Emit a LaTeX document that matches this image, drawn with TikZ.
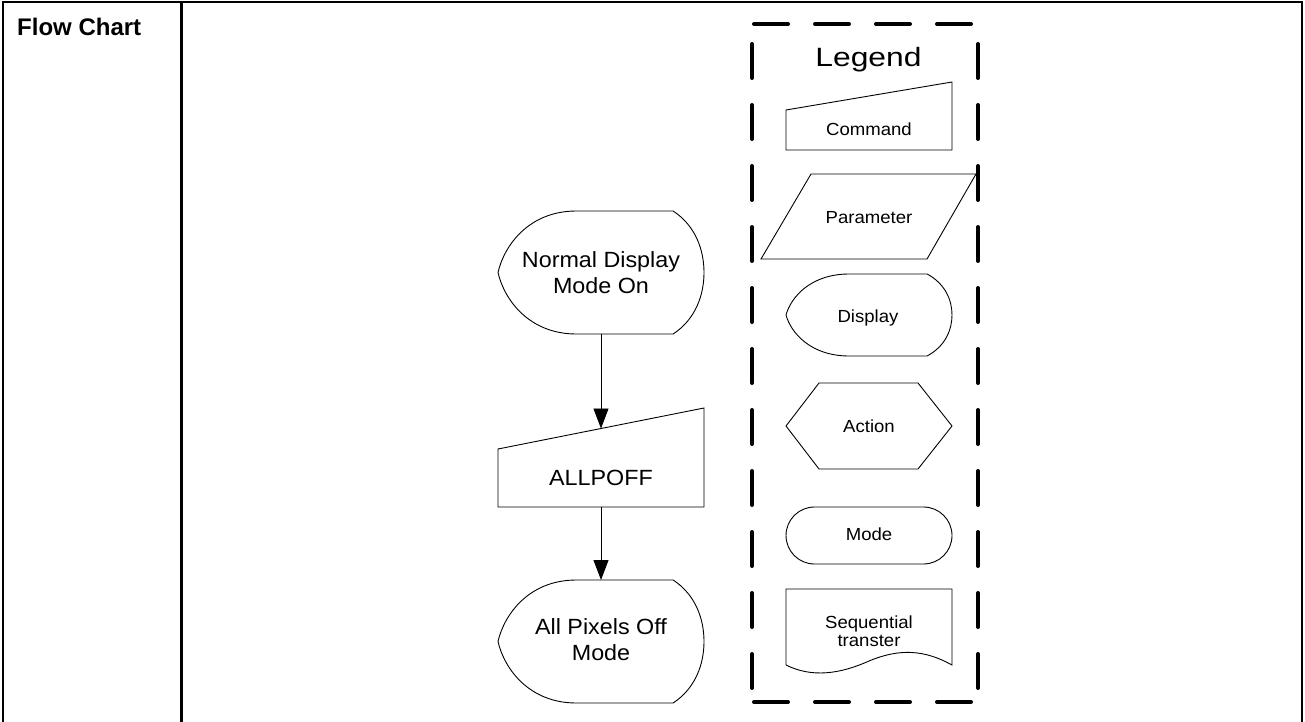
\documentclass[tikz,border=0pt]{standalone}
\usepackage{fontspec}
\usetikzlibrary{arrows.meta}
\setmainfont{Liberation Sans}
\newfontfamily\shapefont[FakeStretch=1.06]{Liberation Sans}
\newfontfamily\legendfont[FakeStretch=1.2]{Liberation Sans}
\begin{document}
\begin{tikzpicture}[x=1pt,y=-1pt,
  outline/.style={draw=black,line width=.9pt},
  flowtext/.style={font=\shapefont\fontsize{22}{26.5}\selectfont,align=center,inner sep=0pt},
  keytext/.style={font=\shapefont\fontsize{17.5}{18.4}\selectfont,align=center,inner sep=0pt},
  flowarrow/.style={draw=black,line width=.9pt,-{Triangle[length=20pt,width=15pt]}},
  keydash/.style={line width=4pt,line cap=round,dash pattern=on 34pt off 27pt}]
\useasboundingbox (0,0) rectangle (1305,722);
% table frame, open at the bottom
\draw[line width=2.5pt] (3,722) -- (3,2) -- (1302,2) -- (1302,722);
\draw[line width=2.5pt] (181.5,2) -- (181.5,722);
\node[anchor=base west,font=\bfseries\fontsize{24}{28}\selectfont,inner sep=0pt] (title) at (17,36) {Flow Chart};
% ---- legend box
\draw[keydash] (754,24) -- (978,24);
\draw[keydash] (754,702) -- (978,702);
\draw[keydash] (752,44) -- (752,700);
\draw[keydash] (978,44) -- (978,700);
\node[anchor=base,font=\legendfont\fontsize{26.5}{30}\selectfont,inner sep=0pt] (legend) at (868.5,67) {Legend};
% display shapes: pointed left, flat top and bottom, round right
\foreach \l/\t/\w/\h in {498/211/206/123,498/580/206/123,786/274/166/82}{
  \draw[outline] ({\l+.38*\w},\t) -- ({\l+.85*\w},\t)
    .. controls ({\l+.96*\w},{\t+.12*\h}) and ({\l+\w},{\t+.32*\h}) .. ({\l+\w},{\t+.5*\h})
    .. controls ({\l+\w},{\t+.68*\h}) and ({\l+.96*\w},{\t+.88*\h}) .. ({\l+.85*\w},{\t+\h})
    -- ({\l+.38*\w},{\t+\h})
    .. controls ({\l+.15*\w},{\t+\h}) and ({\l+.03*\w},{\t+.72*\h}) .. (\l,{\t+.5*\h})
    .. controls ({\l+.03*\w},{\t+.28*\h}) and ({\l+.15*\w},\t) .. cycle;
}
% command (manual input)
\draw[outline] (786,110) -- (952,82) -- (952,150) -- (786,150) -- cycle;
\node[keytext,anchor=base] (cmd) at (869,136) {Command};
% parameter
\draw[outline] (811,174) -- (976,174) -- (927,259) -- (761,259) -- cycle;
\node[keytext,anchor=base] (param) at (869,223) {Parameter};
\node[keytext,anchor=base] (disp) at (868,322) {Display};
% action
\draw[outline] (786,426) -- (819,383) -- (918,383) -- (952,426) -- (918,469) -- (819,469) -- cycle;
\node[keytext,anchor=base] (act) at (869,432) {Action};
% mode
\draw[outline,rounded corners=28.5pt] (786,507) rectangle (952,564);
\node[keytext,anchor=base] (mode) at (869,540) {Mode};
% sequential transfer (document)
\draw[outline] (786,665) -- (786,589) -- (952,589) -- (952,665)
  .. controls (925,650) and (900,648) .. (869,661)
  .. controls (840,674) and (812,678) .. (786,665);
\node[keytext] (seq) at (869,631.3) {Sequential\\transter};
% ---- the flow itself
\node[flowtext] (normal) at (601,272.6) {Normal Display\\Mode On};
\draw[outline] (498,449) -- (704,408) -- (704,507) -- (498,507) -- cycle;
\node[flowtext,anchor=base] (allpoff) at (601,485) {ALLPOFF};
\node[flowtext] (pixoff) at (601,639.5) {All Pixels Off\\Mode};
\coordinate (normal-b) at (601,334);
\coordinate (allpoff-t) at (601,428.5);
\coordinate (allpoff-b) at (601,507);
\coordinate (pixoff-t) at (601,580);
\draw[flowarrow] (normal-b) -- (allpoff-t);
\draw[flowarrow] (allpoff-b) -- (pixoff-t);
\end{tikzpicture}
\end{document}
